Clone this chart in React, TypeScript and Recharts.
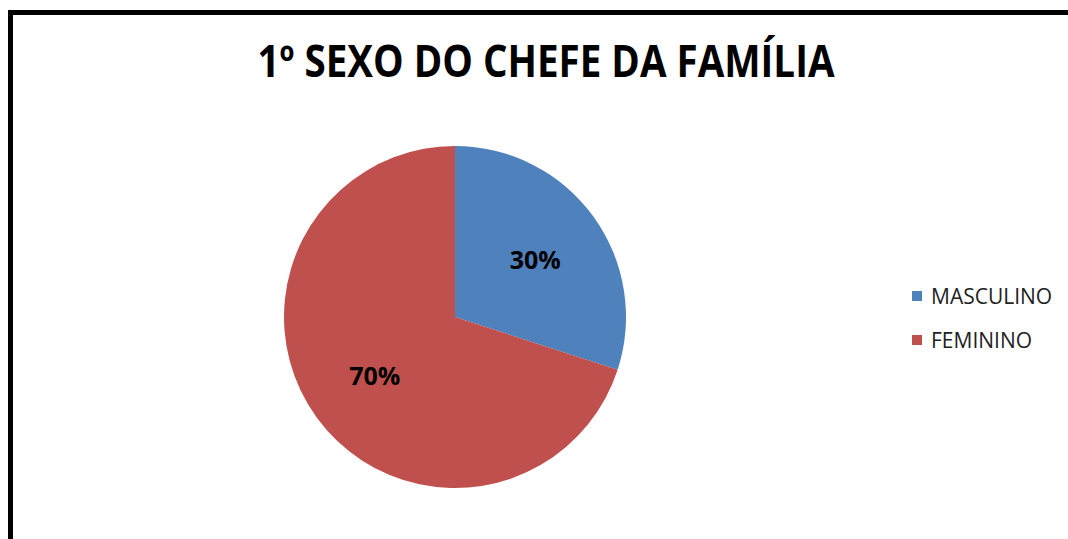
import { PieChart, Pie, Cell, Legend } from "recharts";

const categories = ["MASCULINO", "FEMININO"];
const shares = [30, 70];
const sliceColors = ["#4F81BD", "#C0504D"];
const chartTitle = "1º SEXO DO CHEFE DA FAMÍLIA";

const data = categories.map((name, i) => ({ name, value: shares[i] }));

const RADIAN = Math.PI / 180;

function renderLabel({ cx, cy, midAngle, outerRadius, percent }: any) {
  const r = outerRadius * 0.58;
  const x = cx + r * Math.cos(-midAngle * RADIAN);
  const y = cy + r * Math.sin(-midAngle * RADIAN);
  return (
    <text
      x={x}
      y={y}
      fill="#000"
      textAnchor="middle"
      dominantBaseline="central"
      fontFamily="'Open Sans', sans-serif"
      fontWeight={700}
      fontSize={25}
    >
      {`${Math.round(percent * 100)}%`}
    </text>
  );
}

// keep the legend in data order (recharts sorts it by name otherwise)
function LegendList() {
  return (
    <div style={{ fontFamily: "'Open Sans', sans-serif", fontSize: 21, color: "#222" }}>
      {categories.map((name, i) => (
        <div key={name} style={{ display: "flex", alignItems: "center", height: 44 }}>
          <span
            style={{
              display: "inline-block",
              width: 10,
              height: 10,
              background: sliceColors[i],
              marginRight: 9,
            }}
          />
          {name}
        </div>
      ))}
    </div>
  );
}

export default function App() {
  return (
    <div
      style={{
        position: "absolute",
        left: 0,
        top: 0,
        width: 1068,
        height: 539,
        background: "#fff",
        overflow: "hidden",
      }}
    >
      {/* frame, only top and left edges show in the crop */}
      <div
        style={{
          position: "absolute",
          left: 8,
          top: 10,
          width: 1100,
          height: 600,
          borderTop: "5px solid #000",
          borderLeft: "5px solid #000",
        }}
      />
      <PieChart width={1068} height={539} margin={{ top: 0, right: 0, bottom: 0, left: 0 }}>
        <text
          x={546}
          y={77}
          textAnchor="middle"
          fontFamily="'Open Sans', sans-serif"
          fontWeight={700}
          fontSize={44}
          textLength={577}
          lengthAdjust="spacingAndGlyphs"
          fill="#000"
        >
          {chartTitle}
        </text>
        <Pie
          data={data}
          dataKey="value"
          nameKey="name"
          cx={455}
          cy={317}
          outerRadius={171}
          startAngle={90}
          endAngle={-270}
          stroke="none"
          label={renderLabel}
          labelLine={false}
          isAnimationActive={false}
        >
          {data.map((d, i) => (
            <Cell key={d.name} fill={sliceColors[i]} />
          ))}
        </Pie>
        <Legend
          content={<LegendList />}
          wrapperStyle={{ left: 912, top: 274, width: 156 }}
        />
      </PieChart>
    </div>
  );
}
